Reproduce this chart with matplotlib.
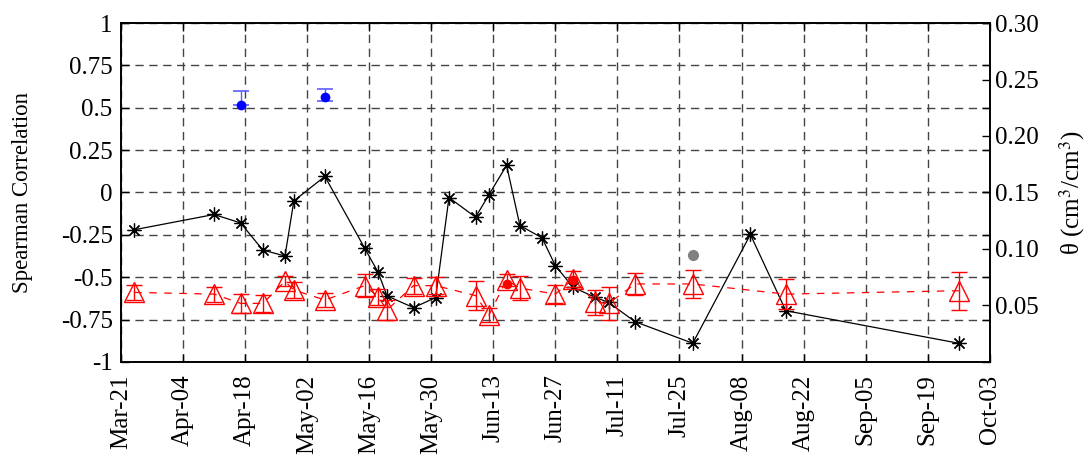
#!/usr/bin/env python3
import numpy as np
import matplotlib
matplotlib.use('Agg')
import matplotlib.pyplot as plt
import matplotlib.dates as mdates

# black series: Spearman correlation (left axis)
corr_dates = ['2011-03-24', '2011-04-11', '2011-04-17', '2011-04-22', '2011-04-27',
              '2011-04-29', '2011-05-06', '2011-05-15', '2011-05-18', '2011-05-20',
              '2011-05-26', '2011-05-31', '2011-06-03', '2011-06-09', '2011-06-12',
              '2011-06-16', '2011-06-19', '2011-06-24', '2011-06-27', '2011-07-01',
              '2011-07-06', '2011-07-09', '2011-07-15', '2011-07-28', '2011-08-10',
              '2011-08-18', '2011-09-26']
corr_vals = [-0.22, -0.13, -0.18, -0.34, -0.375, -0.05, 0.095, -0.33, -0.47, -0.61,
             -0.68, -0.62, -0.03, -0.146, -0.014, 0.16, -0.195, -0.268, -0.432, -0.56,
             -0.619, -0.649, -0.763, -0.89, -0.248, -0.698, -0.89]

# red triangles: soil moisture theta (right axis)
theta_dates = ['2011-03-24', '2011-04-11', '2011-04-17', '2011-04-22', '2011-04-27',
               '2011-04-29', '2011-05-06', '2011-05-15', '2011-05-18', '2011-05-20',
               '2011-05-26', '2011-05-31', '2011-06-09', '2011-06-12', '2011-06-16',
               '2011-06-19', '2011-06-27', '2011-07-01', '2011-07-06', '2011-07-09',
               '2011-07-15', '2011-07-28', '2011-08-18', '2011-09-26']
theta_vals = [0.0615, 0.060, 0.0518, 0.0518, 0.0713, 0.0636, 0.0548, 0.0675, 0.0578,
              0.0459, 0.0675, 0.0675, 0.0587, 0.0414, 0.0725, 0.0654, 0.060, 0.0734,
              0.0527, 0.0518, 0.069, 0.069, 0.060, 0.063]
theta_err = [0.0066, 0.0066, 0.0087, 0.0077, 0.0044, 0.0071, 0.0062, 0.010, 0.0071,
             0.0089, 0.0071, 0.0074, 0.0126, 0.0059, 0.0052, 0.0108, 0.0082, 0.0074,
             0.011, 0.0148, 0.0096, 0.0124, 0.013, 0.0167]

# single dots (left axis)
blue_dates = ['2011-04-17', '2011-05-06']
blue_vals = [0.518, 0.564]
blue_lo = [0.004, 0.024]
blue_hi = [0.082, 0.045]

red_dates = ['2011-06-16', '2011-07-01']
red_vals = [-0.54, -0.516]

gray_dates = ['2011-07-28']
gray_vals = [-0.367]


def to_dt(d):
    return np.array(d, dtype='datetime64[D]').astype('O')


def draw():
    plt.rcParams['font.family'] = ['Liberation Serif', 'DejaVu Serif']
    plt.rcParams['mathtext.fontset'] = 'stix'
    plt.rcParams['axes.unicode_minus'] = False

    fig = plt.figure(figsize=(10.9, 4.61), dpi=100, facecolor='white')
    ax = fig.add_axes([0.111, 0.215, 0.797, 0.735])
    ax2 = ax.twinx()

    # grid
    ax.grid(True, color='#444444', linestyle=(0, (6, 4)), linewidth=1.0)
    ax.set_axisbelow(True)

    # black line
    ax.plot(to_dt(corr_dates), corr_vals, color='black', lw=0.9,
            marker=(8, 2, 0), ms=10, mew=0.9, zorder=3)

    # dots with small error bars
    ax.errorbar(to_dt(blue_dates), blue_vals, yerr=[blue_lo, blue_hi], fmt='none',
                ecolor='#5c5cff', elinewidth=1.0, capsize=6, capthick=1.2, zorder=4)
    ax.plot(to_dt(blue_dates), blue_vals, 'o', color='blue', ms=6, zorder=5)
    ax.errorbar(to_dt(red_dates), red_vals, yerr=0.005, fmt='o', color='red',
                ms=6, ecolor='red', elinewidth=0.8, capsize=3, zorder=5)
    ax.errorbar(to_dt(gray_dates), gray_vals, yerr=0.005, fmt='o', color='gray',
                ms=7, ecolor='gray', elinewidth=0.8, capsize=3, zorder=5)

    # red triangles on theta axis
    ax2.errorbar(to_dt(theta_dates), theta_vals, yerr=theta_err, color='red',
                 ls=(0, (6, 6)), lw=0.9, marker='^', ms=14, mfc='none', mec='red',
                 mew=1.0, ecolor='red', elinewidth=1.0, capsize=6, capthick=1.0)

    # x axis
    start = np.datetime64('2011-03-21')
    ticks = np.arange(start, start + np.timedelta64(197, 'D'), 14).astype('O')
    ax.set_xlim(ticks[0], ticks[-1])
    ax.set_xticks(ticks)
    ax.xaxis.set_major_formatter(mdates.DateFormatter('%b-%d'))
    plt.setp(ax.get_xticklabels(), rotation=90, fontsize=18)

    # left axis
    ax.set_ylim(-1, 1)
    yt = [-1, -0.75, -0.5, -0.25, 0, 0.25, 0.5, 0.75, 1]
    ax.set_yticks(yt)
    ax.set_yticklabels(['-1', '-0.75', '-0.5', '-0.25', '0', '0.25', '0.5', '0.75', '1'],
                       fontsize=18)
    ax.set_ylabel('Spearman Correlation', fontsize=16.5, labelpad=20)
    ax.tick_params(direction='in', length=6, width=1, top=True, right=True)
    ax.tick_params(axis='y', pad=6)
    ax.tick_params(axis='x', pad=9)

    # right axis
    ax2.set_ylim(0, 0.30)
    ax2.set_yticks([0.05, 0.10, 0.15, 0.20, 0.25, 0.30])
    ax2.set_yticklabels(['0.05', '0.10', '0.15', '0.20', '0.25', '0.30'], fontsize=18)
    ax2.set_ylabel(r'θ (cm$^3$/cm$^3$)', fontsize=18, labelpad=13)
    ax2.tick_params(direction='in', length=6, width=1, pad=4)

    for a in (ax, ax2):
        for s in a.spines.values():
            s.set_linewidth(1.2)

    plt.savefig('out.png', facecolor=fig.get_facecolor(), dpi=100)


if __name__ == '__main__':
    draw()
